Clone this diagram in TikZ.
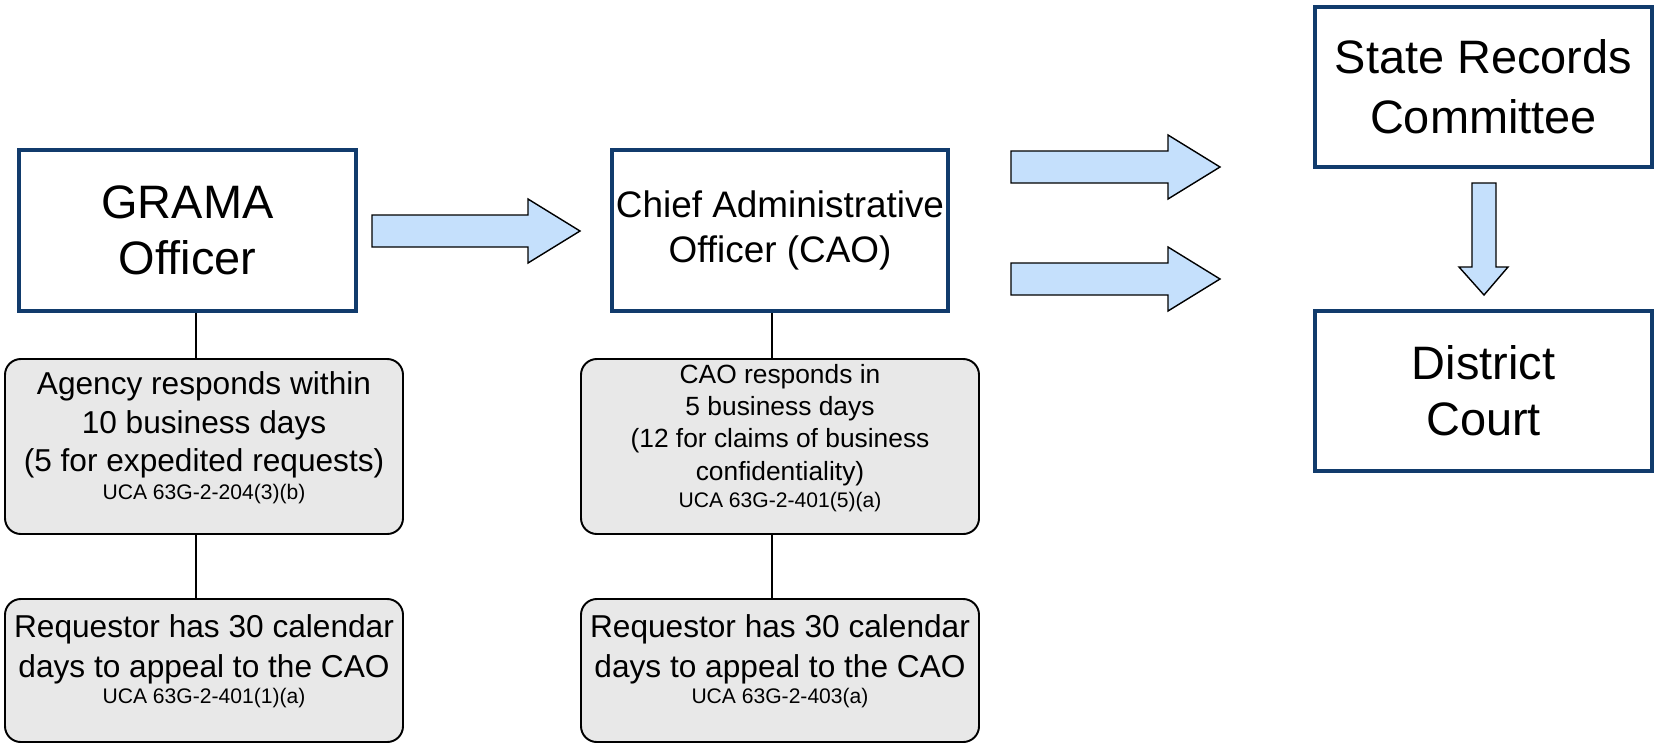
\documentclass[tikz,border=0pt]{standalone}
\usepackage{fontspec}
\setmainfont{Liberation Sans}

\definecolor{boxblue}{RGB}{17,59,108}
\definecolor{arrowblue}{RGB}{197,224,252}
\definecolor{notegray}{RGB}{232,232,232}
\newcommand{\citesize}{\fontsize{12}{14}\selectfont}

\begin{document}
\begin{tikzpicture}[
    officebox/.style={draw=boxblue, line width=2.5pt, fill=white, minimum width=6.73cm, minimum height=3.21cm, inner sep=1pt, align=center},
    bigtext/.style={font=\fontsize{26.7}{32}\selectfont},
    notebox/.style={draw=black, line width=1.1pt, fill=notegray, rounded corners=9pt, minimum width=7.96cm, inner sep=1pt, align=center},
    blockarrow/.style={draw=black, line width=0.8pt, fill=arrowblue},
    link/.style={draw=black, line width=0.8pt}
]
    \useasboundingbox (0, 0) rectangle (33.22, -15);

    % offices
    \node[officebox, bigtext] (grama) at (3.75, -4.61) {GRAMA\\Officer};
    \node[officebox, font=\fontsize{21}{25.6}\selectfont] (cao) at (15.6, -4.61) {Chief Administrative\\Officer (CAO)};
    \node[officebox, font=\fontsize{26.7}{34}\selectfont] (state) at (29.67, -1.74) {State Records\\Committee};
    \node[officebox, bigtext] (court) at (29.67, -7.82) {District\\Court};

    % deadlines
    \node[notebox, minimum height=3.5cm, font=\fontsize{18}{21.9}\selectfont] (agency) at (4.08, -8.93)
        {Agency responds within\\10 business days\\(5 for expedited requests)\\[-6pt]{\citesize UCA 63G-2-204(3)(b)\rule[-12pt]{0pt}{0pt}}};
    \node[notebox, minimum height=3.5cm, font=\fontsize{15}{18.4}\selectfont] (caoresp) at (15.6, -8.93)
        {CAO responds in\\5 business days\\(12 for claims of business\\confidentiality)\\[-3pt]{\citesize UCA 63G-2-401(5)(a)\rule[-12.5pt]{0pt}{0pt}}};
    \node[notebox, minimum height=2.86cm, font=\fontsize{18}{22.8}\selectfont] (appeal1) at (4.08, -13.41)
        {Requestor has 30 calendar\\days to appeal to the CAO\\[-8pt]{\citesize UCA 63G-2-401(1)(a)\rule[-13pt]{0pt}{0pt}}};
    \node[notebox, minimum height=2.86cm, font=\fontsize{18}{22.8}\selectfont] (appeal2) at (15.6, -13.41)
        {Requestor has 30 calendar\\days to appeal to the CAO\\[-8pt]{\citesize UCA 63G-2-403(a)\rule[-13pt]{0pt}{0pt}}};

    % links
    \coordinate (gramafoot) at ([xshift=0.17cm]grama.south);
    \coordinate (caofoot) at ([xshift=-0.16cm]cao.south);
    \draw[link] (gramafoot) -- (gramafoot |- agency.north);
    \draw[link] ([xshift=-0.16cm]agency.south) -- ([xshift=-0.16cm]appeal1.north);
    \draw[link] (caofoot) -- (caofoot |- caoresp.north);
    \draw[link] ([xshift=-0.16cm]caoresp.south) -- ([xshift=-0.16cm]appeal2.north);

    % block arrows
    \filldraw[blockarrow] (7.44, -4.30) -- (10.56, -4.30) -- (10.56, -3.98) -- (11.6, -4.62) -- (10.56, -5.26) -- (10.56, -4.94) -- (7.44, -4.94) -- cycle;
    \filldraw[blockarrow] (20.22, -3.02) -- (23.36, -3.02) -- (23.36, -2.70) -- (24.4, -3.34) -- (23.36, -3.98) -- (23.36, -3.66) -- (20.22, -3.66) -- cycle;
    \filldraw[blockarrow] (20.22, -5.26) -- (23.36, -5.26) -- (23.36, -4.94) -- (24.4, -5.58) -- (23.36, -6.22) -- (23.36, -5.90) -- (20.22, -5.90) -- cycle;
    \filldraw[blockarrow] (29.44, -3.66) -- (29.92, -3.66) -- (29.92, -5.34) -- (30.16, -5.34) -- (29.68, -5.90) -- (29.18, -5.34) -- (29.44, -5.34) -- cycle;
\end{tikzpicture}
\end{document}
